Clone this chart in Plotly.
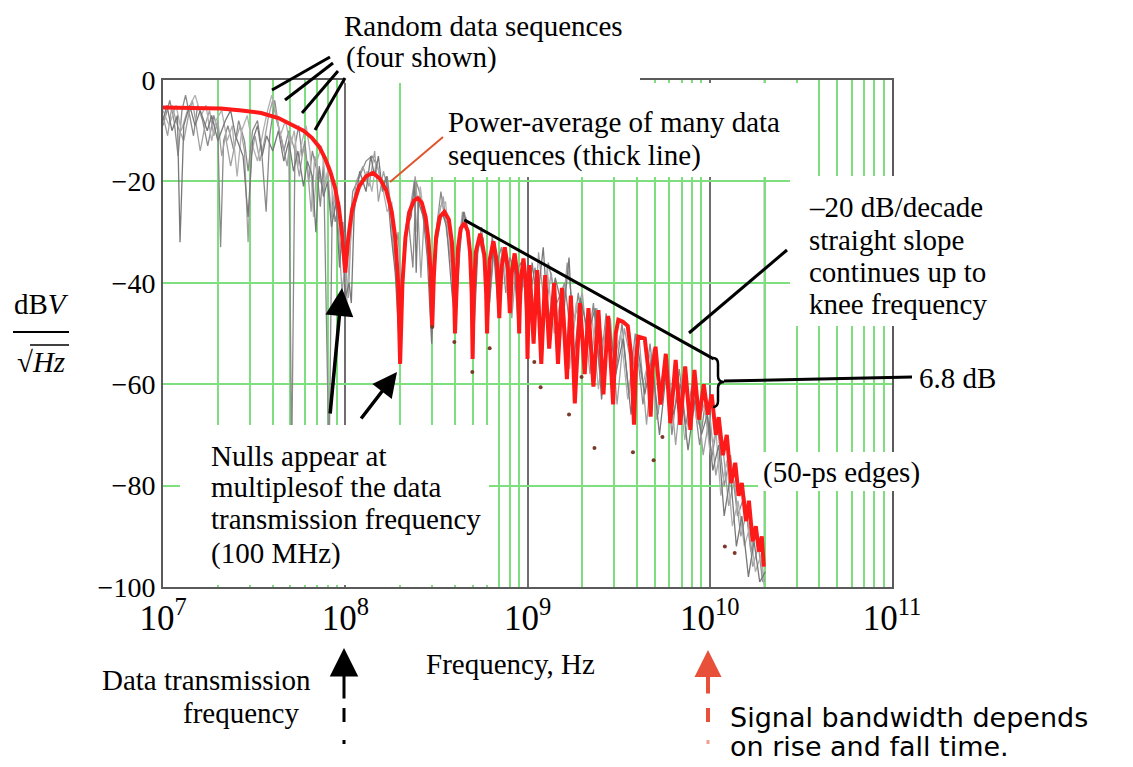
import plotly.graph_objects as go

# ---------------- data ----------------
# power-average spectrum (thick red line): (frequency Hz, dBV/sqrt(Hz))
red_curve = [
    (1.0e7, -5.4), (1.5e7, -5.5), (2.07e7, -5.6), (2.7e7, -6.0), (3.46e7, -6.5), (4.3e7, -7.5),
    (5.2e7, -8.9), (5.9e7, -10.0), (6.56e7, -11.4), (7.2e7, -13.2), (7.74e7, -15.4), (8.3e7, -18.2),
    (8.8e7, -21.3), (9.25e7, -25.5), (9.62e7, -30.6), (1.0e8, -38.0),
    (1.04e8, -31), (1.09e8, -25.6), (1.19e8, -21), (1.3e8, -19), (1.42e8, -18.3), (1.55e8, -19.5),
    (1.68e8, -21.8), (1.8e8, -26), (1.88e8, -31), (1.95e8, -40), (2.0e8, -56),
    (2.06e8, -40), (2.14e8, -31), (2.25e8, -26), (2.38e8, -23.8), (2.5e8, -23.3), (2.63e8, -24.2),
    (2.76e8, -27), (2.86e8, -31.5), (2.94e8, -38), (3.0e8, -48.7),
    (3.06e8, -39), (3.15e8, -31), (3.3e8, -27), (3.5e8, -26), (3.7e8, -27.5), (3.85e8, -32),
    (3.94e8, -39), (4.0e8, -50),
    (4.06e8, -41), (4.16e8, -33), (4.3e8, -29.3), (4.5e8, -28.2), (4.7e8, -29.8), (4.84e8, -34),
    (4.94e8, -42), (5.0e8, -55),
    (5.07e8, -42), (5.2e8, -34), (5.5e8, -30.3), (5.8e8, -34.5), (5.93e8, -42), (6.0e8, -50),
    (6.07e8, -43), (6.2e8, -35.5), (6.5e8, -31.8), (6.8e8, -36), (6.93e8, -43), (7.0e8, -47),
    (7.07e8, -43), (7.2e8, -37), (7.5e8, -33), (7.8e8, -37), (7.93e8, -43), (8.0e8, -46),
    (8.07e8, -44), (8.2e8, -38), (8.5e8, -34.2), (8.8e8, -38.5), (8.93e8, -45), (9.0e8, -50),
    (9.07e8, -45), (9.2e8, -39.5), (9.5e8, -35.2), (9.8e8, -40), (9.93e8, -47), (1.0e9, -55),
    (1.025e9, -36.5), (1.08e9, -52), (1.13e9, -37.5), (1.19e9, -56), (1.25e9, -38.5), (1.315e9, -53),
    (1.4e9, -40), (1.47e9, -56), (1.545e9, -41), (1.645e9, -59), (1.73e9, -42.5), (1.818e9, -63.8),
    (1.94e9, -44), (2.06e9, -58), (2.16e9, -45), (2.3e9, -60.5), (2.45e9, -45.4), (2.61e9, -62),
    (2.77e9, -46.5), (2.95e9, -64), (3.05e9, -50), (3.15e9, -47.3), (3.34e9, -47.7), (3.55e9, -48.5),
    (3.7e9, -54), (3.84e9, -68), (3.95e9, -55), (4.05e9, -50.6), (4.4e9, -51), (4.6e9, -57),
    (4.74e9, -66.4), (4.85e9, -57), (5.04e9, -52.6), (5.37e9, -64), (5.74e9, -54), (6.08e9, -67.7),
    (6.5e9, -55.2), (6.89e9, -68), (7.33e9, -56.5), (7.83e9, -69), (8.24e9, -57.2), (8.73e9, -67),
    (9.27e9, -60), (9.75e9, -66), (1.025e10, -62), (1.08e10, -70), (1.12e10, -66.5), (1.18e10, -74),
    (1.24e10, -70), (1.31e10, -79.5), (1.38e10, -75.5), (1.44e10, -82), (1.5e10, -79.5), (1.58e10, -87),
    (1.64e10, -83), (1.72e10, -91), (1.79e10, -88), (1.86e10, -93), (1.93e10, -90), (1.98e10, -96),
]

# four random data sequences (thin grey lines)
gray_seq_1 = [
    (1.0e7, -9), (1.09e7, -4), (1.15e7, -8), (1.21e7, -15), (1.27e7, -6), (1.33e7, -3), (1.4e7, -7),
    (1.47e7, -11), (1.55e7, -5), (1.65e7, -8), (1.76e7, -13), (1.9e7, -7), (2.0e7, -10), (2.07e7, -33),
    (2.15e7, -12), (2.27e7, -9), (2.45e7, -14), (2.6e7, -8), (2.8e7, -12), (2.93e7, -18), (3.1e7, -10),
    (3.3e7, -8), (3.46e7, -13), (3.68e7, -26), (3.85e7, -11), (4.1e7, -4), (4.3e7, -9), (4.6e7, -14),
    (4.9e7, -10), (5.08e7, -76), (5.3e7, -13), (5.55e7, -9), (5.8e7, -15), (6.0e7, -12), (6.3e7, -20),
    (6.6e7, -14), (7.0e7, -18), (7.3e7, -25), (7.6e7, -16), (8.15e7, -76), (8.5e7, -22), (8.8e7, -28),
    (9.3e7, -24), (9.7e7, -35), (1.0e8, -40), (1.05e8, -30), (1.1e8, -22), (1.2e8, -19), (1.3e8, -16),
    (1.4e8, -15), (1.5e8, -17), (1.6e8, -21), (1.7e8, -19), (1.8e8, -27), (1.9e8, -33), (2.0e8, -52),
    (2.1e8, -33), (2.2e8, -26), (2.35e8, -37), (2.45e8, -20), (2.55e8, -22), (2.7e8, -28), (2.85e8, -31),
    (3.0e8, -45), (3.15e8, -30), (3.35e8, -22), (3.5e8, -27), (3.7e8, -29), (3.9e8, -38), (4.05e8, -44),
    (4.3e8, -30), (4.5e8, -26), (4.8e8, -32), (5.0e8, -48), (5.3e8, -34), (5.6e8, -29), (6.0e8, -45),
    (6.4e8, -31), (6.8e8, -36), (7.2e8, -33), (7.6e8, -42), (8.0e8, -35), (8.6e8, -38), (9.2e8, -36),
    (1.0e9, -45), (1.1e9, -37), (1.2e9, -50), (1.3e9, -36), (1.45e9, -44), (1.6e9, -40), (1.75e9, -52),
    (1.9e9, -42), (2.1e9, -55), (2.3e9, -44), (2.5e9, -58), (2.7e9, -46), (3.0e9, -60), (3.3e9, -48),
    (3.6e9, -62), (3.9e9, -50), (4.3e9, -64), (4.7e9, -52), (5.2e9, -66), (5.7e9, -54), (6.2e9, -70),
    (6.8e9, -57), (7.4e9, -68), (8.0e9, -60), (8.8e9, -72), (9.5e9, -63), (1.02e10, -75), (1.1e10, -68),
    (1.2e10, -80), (1.3e10, -74), (1.42e10, -86), (1.55e10, -82), (1.68e10, -93), (1.8e10, -88),
    (1.95e10, -99),
]
gray_seq_2 = [
    (1.0e7, -7), (1.06e7, -11), (1.12e7, -5), (1.2e7, -9), (1.3e7, -12), (1.38e7, -7), (1.45e7, -4),
    (1.52e7, -9), (1.6e7, -14), (1.7e7, -9), (1.8e7, -6), (1.9e7, -11), (2.0e7, -8), (2.1e7, -15),
    (2.2e7, -11), (2.35e7, -17), (2.5e7, -12), (2.65e7, -9), (2.8e7, -14), (2.93e7, -32), (3.05e7, -15),
    (3.2e7, -11), (3.4e7, -16), (3.6e7, -12), (3.8e7, -7), (4.0e7, -4), (4.2e7, -8), (4.5e7, -12),
    (4.8e7, -17), (5.0e7, -11), (5.3e7, -14), (5.6e7, -19), (5.9e7, -13), (6.2e7, -17), (6.5e7, -26),
    (6.8e7, -15), (7.2e7, -19), (7.6e7, -22), (8.0e7, -18), (8.4e7, -27), (8.8e7, -23), (9.2e7, -30),
    (9.6e7, -42), (1.0e8, -36), (1.04e8, -43), (1.08e8, -28), (1.15e8, -20), (1.25e8, -17), (1.35e8, -21),
    (1.45e8, -14), (1.52e8, -24), (1.62e8, -18), (1.75e8, -23), (1.85e8, -35), (1.95e8, -30), (2.05e8, -45),
    (2.15e8, -30), (2.3e8, -24), (2.42e8, -19), (2.5e8, -25), (2.6e8, -39), (2.72e8, -26), (2.9e8, -33),
    (3.05e8, -38), (3.25e8, -27), (3.45e8, -23), (3.6e8, -30), (3.8e8, -36), (4.1e8, -35), (4.4e8, -26),
    (4.7e8, -31), (5.1e8, -42), (5.4e8, -31), (5.8e8, -36), (6.2e8, -44), (6.6e8, -32), (7.0e8, -40),
    (7.5e8, -35), (8.2e8, -47), (8.7e8, -36), (9.4e8, -41), (1.02e9, -38), (1.08e9, -52), (1.15e9, -34),
    (1.25e9, -46), (1.35e9, -38), (1.5e9, -53), (1.65e9, -36), (1.8e9, -47), (2.0e9, -42), (2.2e9, -58),
    (2.4e9, -45), (2.6e9, -52), (2.85e9, -47), (3.1e9, -64), (3.4e9, -49), (3.75e9, -57), (4.1e9, -51),
    (4.5e9, -68), (4.9e9, -53), (5.4e9, -60), (5.9e9, -55), (6.5e9, -72), (7.1e9, -58), (7.8e9, -66),
    (8.5e9, -61), (9.2e9, -74), (1.0e10, -66), (1.08e10, -78), (1.17e10, -71), (1.27e10, -84),
    (1.36e10, -79), (1.48e10, -90), (1.6e10, -85), (1.72e10, -96), (1.85e10, -92), (2.0e10, -99),
]
gray_seq_3 = [
    (1.0e7, -6), (1.08e7, -9), (1.18e7, -5), (1.26e7, -10), (1.36e7, -6), (1.5e7, -3), (1.62e7, -7),
    (1.72e7, -5), (1.85e7, -12), (1.95e7, -8), (2.1e7, -6), (2.25e7, -12), (2.4e7, -9), (2.55e7, -19),
    (2.7e7, -10), (2.9e7, -7), (3.1e7, -13), (3.3e7, -16), (3.55e7, -10), (3.75e7, -6), (3.95e7, -3),
    (4.2e7, -7), (4.4e7, -11), (4.7e7, -8), (5.0e7, -13), (5.25e7, -10), (5.5e7, -17), (5.8e7, -12),
    (6.1e7, -9), (6.4e7, -14), (6.7e7, -27), (7.0e7, -16), (7.4e7, -13), (7.8e7, -20), (8.2e7, -17),
    (8.6e7, -24), (9.0e7, -21), (9.4e7, -33), (9.8e7, -30), (1.02e8, -44), (1.06e8, -33), (1.12e8, -24),
    (1.22e8, -21), (1.32e8, -18), (1.4e8, -22), (1.48e8, -16), (1.58e8, -20), (1.7e8, -26), (1.8e8, -24),
    (1.9e8, -40), (2.0e8, -48), (2.1e8, -36), (2.22e8, -27), (2.38e8, -22), (2.48e8, -30), (2.58e8, -21),
    (2.75e8, -29), (2.95e8, -41), (3.1e8, -35), (3.3e8, -25), (3.55e8, -24), (3.75e8, -33), (3.95e8, -45),
    (4.2e8, -31), (4.6e8, -27), (4.9e8, -38), (5.2e8, -36), (5.6e8, -30), (5.95e8, -41), (6.3e8, -33),
    (6.8e8, -38), (7.3e8, -34), (7.8e8, -43), (8.4e8, -36), (9.0e8, -45), (9.7e8, -37), (1.05e9, -48),
    (1.12e9, -39), (1.2e9, -55), (1.28e9, -37), (1.4e9, -50), (1.55e9, -42), (1.7e9, -57), (1.85e9, -44),
    (2.05e9, -54), (2.25e9, -46), (2.45e9, -61), (2.7e9, -48), (2.95e9, -56), (3.25e9, -50), (3.55e9, -63),
    (3.9e9, -52), (4.3e9, -60), (4.7e9, -54), (5.1e9, -67), (5.6e9, -56), (6.1e9, -64), (6.7e9, -59),
    (7.3e9, -71), (8.0e9, -62), (8.6e9, -68), (9.3e9, -64), (1.01e10, -74), (1.08e10, -69), (1.15e10, -82),
    (1.24e10, -75), (1.33e10, -88), (1.43e10, -83), (1.55e10, -92), (1.66e10, -88), (1.78e10, -97),
    (1.9e10, -94), (1.98e10, -99.5),
]
gray_seq_4 = [
    (1.0e7, -8), (1.05e7, -5), (1.12e7, -10), (1.2e7, -7), (1.24e7, -32), (1.3e7, -9), (1.4e7, -5),
    (1.5e7, -9), (1.6e7, -6), (1.75e7, -10), (1.85e7, -7), (2.0e7, -12), (2.2e7, -8), (2.35e7, -6),
    (2.5e7, -11), (2.75e7, -15), (2.93e7, -27), (3.1e7, -12), (3.3e7, -9), (3.5e7, -15), (3.7e7, -11),
    (4.0e7, -14), (4.3e7, -10), (4.6e7, -16), (4.9e7, -12), (5.2e7, -18), (5.5e7, -14), (5.9e7, -21),
    (6.2e7, -16), (6.6e7, -19), (6.9e7, -30), (7.2e7, -17), (7.6e7, -23), (8.0e7, -20), (8.4e7, -29),
    (8.9e7, -24), (9.3e7, -37), (9.7e7, -28), (1.0e8, -43), (1.05e8, -40), (1.08e8, -44), (1.12e8, -26),
    (1.2e8, -18), (1.3e8, -22), (1.38e8, -15), (1.45e8, -19), (1.52e8, -15), (1.6e8, -22), (1.68e8, -19),
    (1.78e8, -30), (1.88e8, -38), (1.98e8, -52), (2.06e8, -40), (2.18e8, -29), (2.3e8, -27), (2.4e8, -20),
    (2.45e8, -38), (2.52e8, -24), (2.68e8, -27), (2.82e8, -35), (2.98e8, -52), (3.15e8, -33), (3.4e8, -26),
    (3.6e8, -29), (3.85e8, -42), (4.02e8, -48), (4.25e8, -34), (4.45e8, -26), (4.75e8, -30), (5.05e8, -52),
    (5.35e8, -33), (5.7e8, -31), (6.1e8, -47), (6.5e8, -33), (6.9e8, -45), (7.4e8, -34), (7.9e8, -39),
    (8.4e8, -35), (8.9e8, -49), (9.5e8, -37), (1.0e9, -52), (1.06e9, -36), (1.13e9, -44), (1.22e9, -33),
    (1.3e9, -48), (1.42e9, -39), (1.58e9, -46), (1.69e9, -35), (1.8e9, -55), (1.95e9, -43), (2.15e9, -50),
    (2.35e9, -45), (2.55e9, -63), (2.8e9, -47), (3.05e9, -58), (3.35e9, -51), (3.7e9, -66), (4.0e9, -52),
    (4.4e9, -62), (4.8e9, -55), (5.3e9, -70), (5.8e9, -57), (6.3e9, -66), (6.9e9, -60), (7.6e9, -73),
    (8.3e9, -63), (9.0e9, -70), (9.7e9, -66), (1.04e10, -77), (1.12e10, -72), (1.2e10, -86), (1.3e10, -78),
    (1.4e10, -92), (1.5e10, -86), (1.63e10, -98), (1.75e10, -91), (1.88e10, -99), (2.02e10, -97),
]

# small sample dots at the nulls
null_dots = [
    (3.0e8, -48.7), (3.97e8, -51.7), (4.98e8, -57.6), (6.2e8, -52.9), (1.09e9, -55.6), (1.18e9, -60.6),
    (1.69e9, -66), (1.98e9, -58.6), (2.33e9, -72.6), (3.79e9, -73.4), (4.92e9, -75), (5.5e9, -70.4),
    (1.21e10, -92), (1.37e10, -93.3),
]

# -20 dB/decade reference slope
slope_freq = [4.5e8, 1.05e10]
slope_db = [-27.6, -55.0]

x_range_decades = [7, 11]
y_range = [-100, 0]

# ---------------- layout geometry (page pixel coordinates) ----------------
PAGE_W, PAGE_H = 1133, 767
BODY = 8                      # default page body margin that offsets the figure
W, H = PAGE_W - BODY, PAGE_H - BODY
PLOT_X0, PLOT_X1, PLOT_Y0, PLOT_Y1 = 163, 892, 80, 587   # plot area on the page
PW, PH = PLOT_X1 - PLOT_X0, PLOT_Y1 - PLOT_Y0
ML, MT = PLOT_X0 - BODY, PLOT_Y0 - BODY
MR, MB = W - ML - PW, H - MT - PH
SERIF = "Liberation Serif"
SANS = "DejaVu Sans"
GREEN = "#7ddf7d"
FS = 29


def px(x, y):
    return (x - PLOT_X0) / PW, (PLOT_Y1 - y) / PH


def txt(s, x, y, size=FS, xanchor="left", family=SERIF, color="black"):
    xp, yp = px(x, y)
    return dict(text=s, x=xp, y=yp, xref="paper", yref="paper", xanchor=xanchor,
                yanchor="middle", showarrow=False, borderpad=0,
                font=dict(family=family, size=size, color=color))


def arrow(tx, ty, sx, sy, color, width, size):
    xp, yp = px(tx, ty)
    return dict(text="", x=xp, y=yp, xref="paper", yref="paper", ax=sx - tx, ay=sy - ty,
                axref="pixel", ayref="pixel", showarrow=True, arrowhead=2, arrowsize=size,
                arrowwidth=width, arrowcolor=color, standoff=0)


def seg(x0, y0, x1, y1, color="black", width=3):
    a, b = px(x0, y0)
    c, d = px(x1, y1)
    return dict(type="line", xref="paper", yref="paper", x0=a, y0=b, x1=c, y1=d,
                line=dict(color=color, width=width), layer="above")


def mask(x0, y0, x1, y1):
    a, b = px(x0, y0)
    c, d = px(x1, y1)
    return dict(type="rect", xref="paper", yref="paper", x0=a, y0=b, x1=c, y1=d,
                fillcolor="white", line=dict(width=0), layer="above")


def path_px(points):
    parts = []
    for cmd, pts in points:
        coords = []
        for (x, y) in pts:
            a, b = px(x, y)
            coords.append(f"{a:.5f},{b:.5f}")
        parts.append(cmd + " ".join(coords))
    return " ".join(parts)


fig = go.Figure()

gray_colors = ["#8a8a8a", "#a0a0a0", "#b0b0b0", "#787878"]
for seq, col in zip([gray_seq_1, gray_seq_2, gray_seq_3, gray_seq_4], gray_colors):
    fig.add_trace(go.Scatter(x=[p[0] for p in seq], y=[p[1] for p in seq], mode="lines",
                             line=dict(color=col, width=1.3), hoverinfo="skip", showlegend=False))

fig.add_trace(go.Scatter(x=[p[0] for p in red_curve], y=[p[1] for p in red_curve], mode="lines",
                         line=dict(color="#ff1a1a", width=4), showlegend=False))
fig.add_trace(go.Scatter(x=[p[0] for p in null_dots], y=[p[1] for p in null_dots], mode="markers",
                         marker=dict(color="#7a3a2a", size=4), showlegend=False))
fig.add_trace(go.Scatter(x=slope_freq, y=slope_db, mode="lines",
                         line=dict(color="black", width=3), showlegend=False))

shapes = [
    # grey 2e10 grid line
    dict(type="line", xref="x", yref="paper", x0=2e10, x1=2e10, y0=0, y1=1,
         line=dict(color="#9a9a9a", width=2), layer="below"),
    # white boxes behind texts (hide grid where the original does)
    mask(345, 72, 640, 83),
    mask(420, 83, 812, 177),
    mask(790, 176, 1015, 326),
    mask(758, 452, 925, 491),
    mask(180, 425, 489, 585),
    # leader lines
    seg(330, 57, 272, 90), seg(333, 63, 285, 100), seg(338, 71, 302, 113), seg(345, 78, 315, 130),
    seg(443, 137, 390, 182, color="#e0552d", width=2),
    seg(689, 333, 787, 250),
    seg(724, 381, 912, 377),
    # y-axis unit fraction bar and radical overline
    seg(13, 332, 69, 332, width=2),
    seg(30, 345, 69, 345, width=1.5),
    # dashed tails of the bottom arrows
    seg(344, 708, 344, 722, width=3), seg(344, 740, 344, 744, width=3),
    seg(708, 708, 708, 722, color="#e8503a", width=4), seg(708, 740, 708, 744, color="#f0a090", width=3),
    # brace marking 6.8 dB
    dict(type="path", xref="paper", yref="paper", layer="above",
         line=dict(color="black", width=2.5),
         path=path_px([("M", [(713, 358)]), ("Q", [(718, 358), (718, 364)]), ("L", [(718, 376)]),
                       ("Q", [(718, 382), (724, 382)]), ("Q", [(718, 382), (718, 388)]),
                       ("L", [(718, 401)]), ("Q", [(718, 407), (713, 407)])])),
]

annotations = [
    txt("Random data sequences", 343, 26),
    txt("(four shown)", 345, 57),
    txt("Power-average of many data", 447, 122),
    txt("sequences (thick line)", 447, 155),
    txt("–20 dB/decade", 808, 207),
    txt("straight slope", 808, 240),
    txt("continues up to", 808, 272),
    txt("knee frequency", 808, 304),
    txt("6.8 dB", 918, 378),
    txt("(50-ps edges)", 762, 472),
    txt("Nulls appear at", 210, 456),
    txt("multiplesof the data", 210, 487),
    txt("transmission frequency", 210, 519),
    txt("(100 MHz)", 210, 553),
    txt("Frequency, Hz", 510, 664, xanchor="center"),
    txt("Data transmission", 312, 680, xanchor="right"),
    txt("frequency", 300, 713, xanchor="right"),
    txt("Signal bandwidth depends", 729, 717, size=27, family=SANS),
    txt("on rise and fall time.", 729, 746, size=27, family=SANS),
    txt("dB<i>V</i>", 41, 304, xanchor="center"),
    txt("√<i>Hz</i>", 41, 362, xanchor="center"),
    arrow(342, 288, 330, 415, "black", 3.5, 1.6),
    arrow(397, 372, 360, 420, "black", 3.5, 1.4),
    arrow(344, 648, 344, 700, "black", 3, 1.9),
    arrow(708, 650, 708, 695, "#e8503a", 4, 1.35),
]

fig.update_layout(
    width=W, height=H, margin=dict(l=ML, r=MR, t=MT, b=MB, autoexpand=False),
    paper_bgcolor="white", plot_bgcolor="white", showlegend=False,
    shapes=shapes, annotations=annotations,
    xaxis=dict(type="log", range=x_range_decades, dtick=1, exponentformat="power",
               showgrid=True, gridcolor="#6e6e6e", gridwidth=2, automargin=False,
               minor=dict(dtick="D1", showgrid=True, gridcolor=GREEN, gridwidth=2, ticks=""),
               showline=True, linecolor="#5a5a5a", linewidth=2, mirror=True, ticks="",
               tickfont=dict(family=SERIF, size=28, color="black"), zeroline=False),
    yaxis=dict(range=y_range, dtick=20, showgrid=True, gridcolor=GREEN, gridwidth=2, automargin=False,
               showline=True, linecolor="#5a5a5a", linewidth=2, mirror=True, ticks="",
               tickfont=dict(family=SERIF, size=28, color="black"), zeroline=False),
)

fig.write_html("out.html")
